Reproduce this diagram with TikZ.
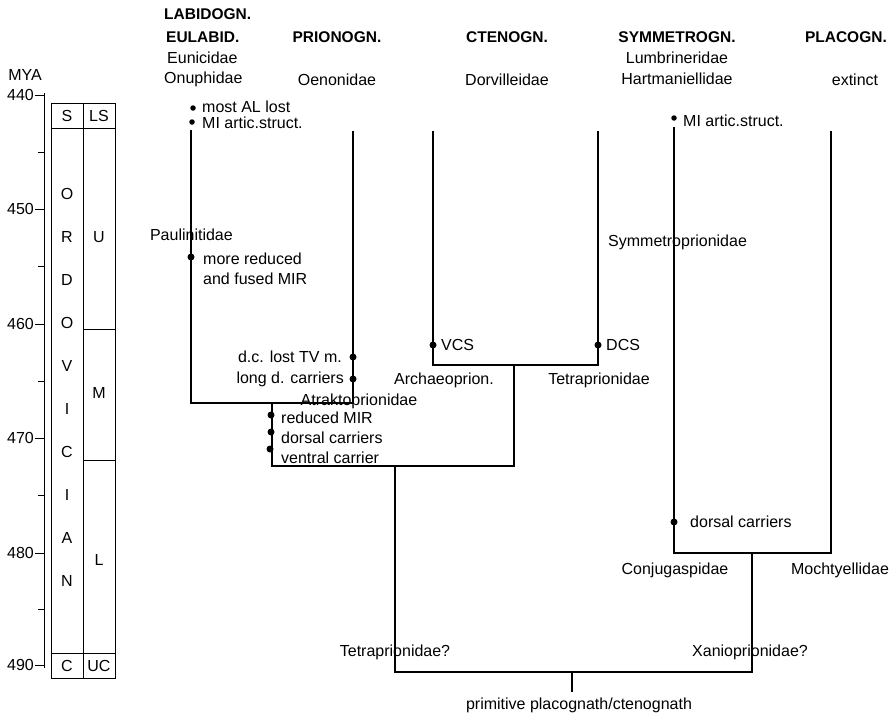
\documentclass[tikz,border=0pt]{standalone}
\usepackage{fontspec}
\setmainfont{Liberation Sans}
\usetikzlibrary{positioning}
\tikzset{
    hdr/.style={font=\fontsize{15.5}{17}\selectfont\bfseries, inner sep=1pt},
    lbl/.style={font=\fontsize{16}{18}\selectfont, inner sep=1pt},
    apo/.style={circle, fill=black, inner sep=0pt, minimum size=7pt},
    apos/.style={apo, minimum size=5.5pt},
    branch/.style={line width=1.4pt},
    grid/.style={line width=0.9pt},
}

\begin{document}
\begin{tikzpicture}[x=1pt,y=-1pt]
	\useasboundingbox (0,0) rectangle (893,715);
	% time scale
	\node[lbl] (mya) at (25,75) {MYA};
	\draw[grid] (44,93) -- (44,668);
	\foreach \t/\y in {440/95,450/209,460/324,470/438,480/553,490/665}
	{ \draw[grid] (35,\y) -- (44,\y); \node[lbl,anchor=east] (t\t) at (35,\y) {\t}; }
	\foreach \y in {152,266,381,495,609} \draw[grid] (38,\y) -- (44,\y);
	
	% stratigraphic table
	\draw[grid] (51,103) rectangle (115,678);
	\draw[grid] (83,103) -- (83,678);
	\draw[grid] (51,128) -- (115,128) (51,653) -- (115,653);
	\draw[grid] (83,329) -- (115,329) (83,460) -- (115,460);
	\node[lbl] (sil) at (67,116) {S};
	\node[lbl] (lsil) at (99,116) {LS};
	\node[lbl] (camb) at (67,666) {C};
	\node[lbl] (ucamb) at (99,666) {UC};
	\node[lbl] (upper) at (99,237) {U};
	\node[lbl] (middle) at (99,393) {M};
	\node[lbl] (lower) at (99,560) {L};
	\foreach \c [count=\i] in {O,R,D,O,V,I,C,I,A,N}
		\node[lbl] (ord\i) at (67,{151+43*\i}) {\c};
	
	% clade headers
	\node[hdr,anchor=west] (labid) at (163,14) {LABIDOGN.};
	\node[hdr,anchor=west] (eulab) at (165,37) {EULABID.};
	\node[hdr] (prion) at (337,37) {PRIONOGN.};
	\node[hdr] (cten) at (507,37) {CTENOGN.};
	\node[hdr] (symm) at (677,37) {SYMMETROGN.};
	\node[hdr,anchor=east] (placo) at (888,37) {PLACOGN.};
	\node[lbl,anchor=west] (eunic) at (166,58) {Eunicidae};
	\node[lbl,anchor=west] (onuph) at (163,79) {Onuphidae};
	\node[lbl] (oenon) at (337,80) {Oenonidae};
	\node[lbl] (dorv) at (507,80) {Dorvilleidae};
	\node[lbl] (lumb) at (677,58) {Lumbrineridae};
	\node[lbl] (hart) at (677,79) {Hartmaniellidae};
	\node[lbl] (ext) at (855,80) {extinct};
	
	% tree
	\coordinate (eul) at (191,130);
	\coordinate (pri) at (353,131);
	\coordinate (vcs) at (433,131);
	\coordinate (dcs) at (598,131);
	\coordinate (sym) at (674,127);
	\coordinate (pla) at (831,131);
	\coordinate (labj) at (272,403);
	\coordinate (ctej) at (514,365);
	\coordinate (midj) at (395,466);
	\coordinate (symj) at (752,553);
	\coordinate (root) at (572,672);
	\coordinate (base) at (572,692);
	\draw[branch] (eul) |- (labj) -| (pri);
	\draw[branch] (vcs) |- (ctej) -| (dcs);
	\draw[branch] (labj) |- (midj) -| (ctej);
	\draw[branch] (sym) |- (symj) -| (pla);
	\draw[branch] (midj) |- (root) -| (symj);
	\draw[branch] (root) -- (base);
	
	% characters on eulabidognath branch
	\node[apos] (a1) at (193,108) {};
	\node[lbl,anchor=west] (a1t) at (201,107) {most AL lost};
	\node[apos] (a2) at (192,122) {};
	\node[lbl,anchor=west] (a2t) at (201,123) {MI artic.struct.};
	\node[lbl,anchor=east] (paul) at (234,235) {Paulinitidae};
	\node[apo] (a3) at (191,257) {};
	\node[lbl,anchor=west] (a3t) at (202,259) {more reduced};
	\node[lbl,anchor=west] (a3u) at (202,279) {and fused MIR};
	
	% prionognath branch
	\node[apo] (b1) at (353,357) {};
	\node[lbl,anchor=east] (b1t) at (343,357) {d.c. lost TV m.};
	\node[apo] (b2) at (353,379) {};
	\node[lbl,anchor=east] (b2t) at (345,379) {long d. carriers};
	\node[lbl] (atrak) at (359,401) {Atraktoprionidae};
	\node[apo] (c1) at (271,415) {};
	\node[lbl,anchor=west] (c1t) at (280,418) {reduced MIR};
	\node[apo] (c2) at (271,432) {};
	\node[lbl,anchor=west] (c2t) at (280,438) {dorsal carriers};
	\node[apo] (c3) at (270,449) {};
	\node[lbl,anchor=west] (c3t) at (280,458) {ventral carrier};
	
	% ctenognath branch
	\node[apo] (d1) at (433,345) {};
	\node[lbl,anchor=west] (d1t) at (440,345) {VCS};
	\node[apo] (d2) at (598,345) {};
	\node[lbl,anchor=west] (d2t) at (605,345) {DCS};
	\node[lbl] (archae) at (444,380) {Archaeoprion.};
	\node[lbl] (tetra) at (599,380) {Tetraprionidae};
	
	% symmetrognath and placognath
	\node[apos] (e1) at (674,118) {};
	\node[lbl,anchor=west] (e1t) at (682,121) {MI artic.struct.};
	\node[lbl,anchor=west] (symp) at (607,242) {Symmetroprionidae};
	\node[apo] (e2) at (674,522) {};
	\node[lbl,anchor=west] (e2t) at (689,522) {dorsal carriers};
	\node[lbl] (conj) at (675,570) {Conjugaspidae};
	\node[lbl] (moch) at (840,570) {Mochtyellidae};
	
	% basal groups
	\node[lbl] (tetraq) at (395,652) {Tetraprionidae?};
	\node[lbl] (xanio) at (750,652) {Xanioprionidae?};
	\node[lbl] (prim) at (579,705) {primitive placognath/ctenognath};
\end{tikzpicture}
\end{document}
